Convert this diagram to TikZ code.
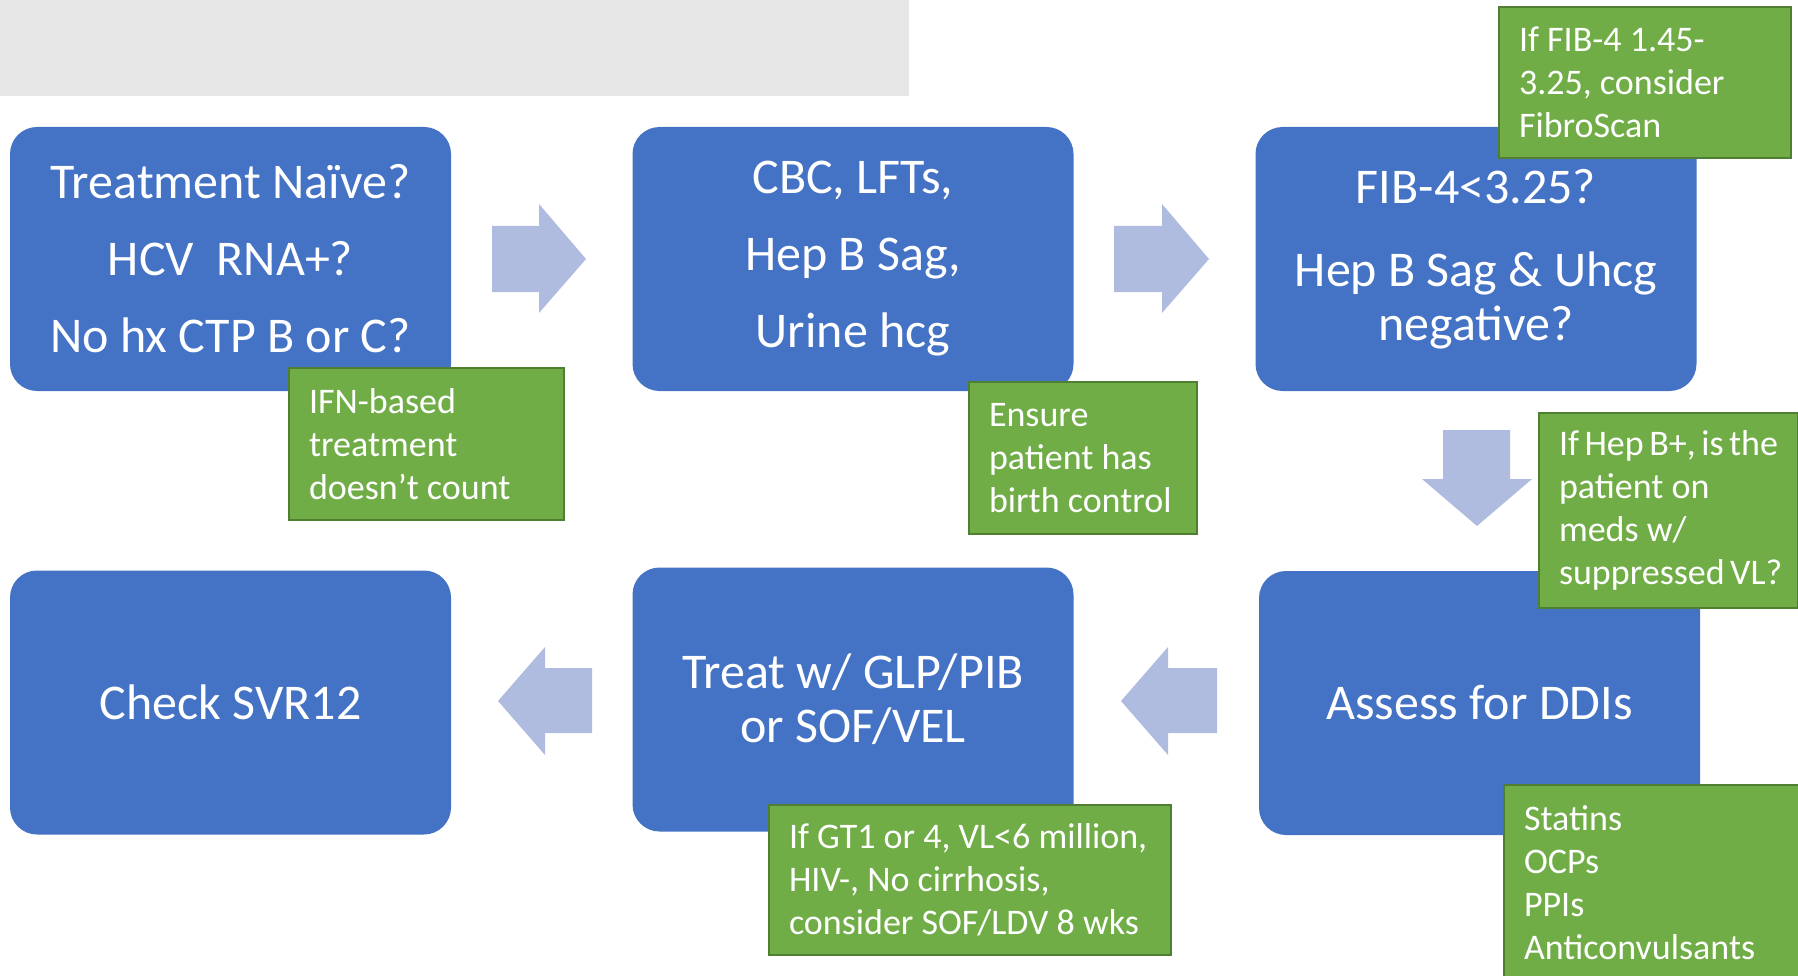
\documentclass[tikz,border=0pt]{standalone}
\usepackage{fontspec}
\setmainfont{Carlito}
\frenchspacing
\definecolor{stageblue}{HTML}{4472C4}
\definecolor{notegreen}{HTML}{70AD47}
\definecolor{noteedge}{HTML}{507E32}
\definecolor{flowblue}{HTML}{B0BCDF}
\definecolor{bargray}{HTML}{E6E6E6}

\begin{document}
\begin{tikzpicture}[x=1pt, y=-1pt,
	stage/.style={fill=stageblue, text=white, rounded corners=27pt, inner sep=0pt,
		minimum width=441pt, minimum height=264pt, align=center,
		font=\fontsize{50}{54}\selectfont},
	note/.style={fill=notegreen, draw=noteedge, line width=2pt, text=white, anchor=north west,
		inner xsep=20pt, inner ysep=0pt, align=flush left, font=\fontsize{36}{43}\selectfont},
	flow/.style={fill=flowblue}]
	\useasboundingbox (0,0) rectangle (1798,976);
	\clip (0,0) rectangle (1798,976);
	% Top Bar %
	\fill [bargray] (0,0) rectangle (909,96);
	% Stages %
	\node [stage] (naive) at (230.5,259) {Treatment Naïve?\\[23pt]HCV~~RNA+?\\[23pt]No hx CTP B or C?};
	\node [stage] (labs) at (853,259) {CBC, LFTs,\\[23pt]Hep B Sag,\\[23pt]Urine hcg};
	\node [stage] (fib) at (1476,259) {FIB-4<3.25?\\[29pt]Hep B Sag \& Uhcg\\negative?};
	\node [stage] (svr) at (230.5,702.5) {Check SVR12};
	\node [stage] (treat) at (853,699.5) {Treat w/ GLP/PIB\\or SOF/VEL};
	\node [stage] (ddi) at (1479.5,703) {Assess for DDIs};
	% Arrows %
	\fill [flow] (492,226) -- ++(47,0) -- ++(0,-22) -- ++(47,55) -- ++(-47,54) -- ++(0,-21) -- ++(-47,0) -- cycle;
	\fill [flow] (1114,226) -- ++(48,0) -- ++(0,-22) -- ++(47,55) -- ++(-47,54) -- ++(0,-21) -- ++(-48,0) -- cycle;
	\fill [flow] (1443,430) -- ++(67,0) -- ++(0,49) -- ++(22,0) -- ++(-55,47) -- ++(-55,-47) -- ++(21,0) -- cycle;
	\fill [flow] (1217,668) -- ++(-49,0) -- ++(0,-21) -- ++(-47,54) -- ++(47,54) -- ++(0,-22) -- ++(49,0) -- cycle;
	\fill [flow] (592,668) -- ++(-47,0) -- ++(0,-21) -- ++(-47,54) -- ++(47,54) -- ++(0,-22) -- ++(47,0) -- cycle;
	% Notes %
	\node [note, text width=235pt, minimum height=152pt] (ifn) at (288,367) {IFN-based\\treatment\\doesn’t~count};
	\node [note, text width=188pt, minimum height=152pt] (ensure) at (968,381) {Ensure\\patient~has\\birth~control};
	\node [note, text width=252pt, minimum height=151pt] (scan) at (1498,6) {If~FIB-4~1.45-\\3.25,~consider\\FibroScan};
	\node [note, text width=219pt, minimum height=195pt] (hepb) at (1538,412) {If~Hep~B+,~is~the\\patient~on\\meds~w/\\suppressed~VL?};
	\node [note, text width=362pt, minimum height=150pt] (short) at (768,804) {If~GT1~or~4,~VL<6~million,\\HIV-,~No~cirrhosis,\\consider~SOF/LDV~8~wks};
	\node [note, text width=280pt, minimum height=196pt] (meds) at (1503,784) {Statins\\OCPs\\PPIs\\Anticonvulsants};
\end{tikzpicture}
\end{document}
